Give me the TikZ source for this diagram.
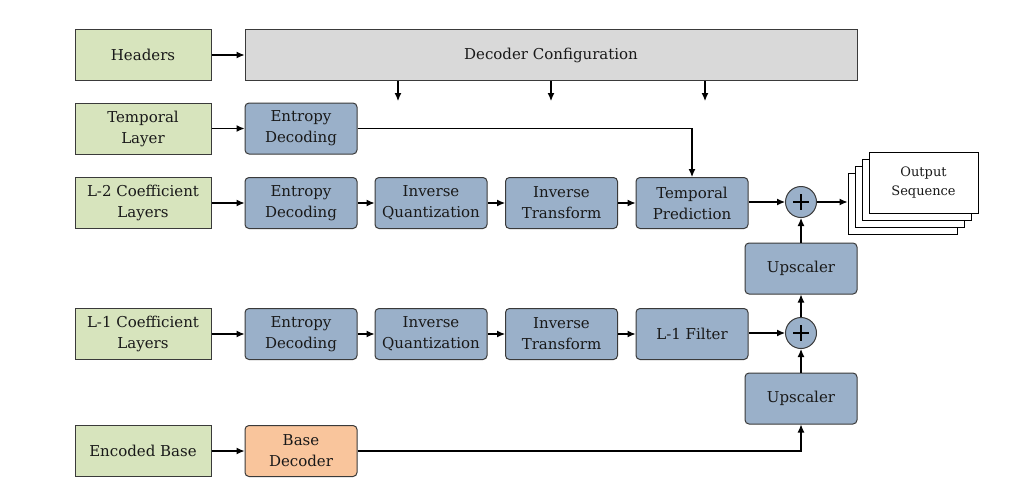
\documentclass[tikz,border=0pt]{standalone}
\usepackage{fontspec}
\setmainfont{DejaVu Serif}
\usetikzlibrary{arrows.meta}
\definecolor{grn}{HTML}{D7E4BD}
\definecolor{gry}{HTML}{D9D9D9}
\definecolor{blu}{HTML}{9AB0C9}
\definecolor{org}{HTML}{F9C59C}
\definecolor{edge}{HTML}{3A3A3A}
\begin{document}
\begin{tikzpicture}[x=1pt,y=-1pt,
  every node/.style={inner sep=0pt,align=center,text=black!90,font=\fontsize{15}{21}\selectfont},
  inbox/.style={draw=edge,line width=1pt,fill=grn,minimum width=136pt,minimum height=51pt},
  procbox/.style={draw=edge,line width=1pt,fill=blu,rounded corners=4pt,minimum width=112pt,minimum height=51pt},
  cfgbox/.style={draw=edge,line width=1pt,fill=gry,minimum width=612pt,minimum height=51pt},
  basebox/.style={procbox,fill=org},
  sumnode/.style={draw=edge,line width=1pt,fill=blu,circle,minimum size=31pt},
  outbox/.style={draw=black,line width=1pt,fill=white,minimum width=109pt,minimum height=61pt},
  conn/.style={line width=1.1pt,draw=black,-{Latex[length=8pt,width=7pt]}}]
\useasboundingbox (0,0) rectangle (1014,496);

% input column
\node[inbox] (hdr) at (143,55) {Headers};
\node[inbox] (tl)  at (143,128.5) {Temporal\\Layer};
\node[inbox] (l2)  at (143,203) {L-2 Coefficient\\Layers};
\node[inbox] (l1)  at (143,334) {L-1 Coefficient\\Layers};
\node[inbox] (eb)  at (143,451) {Encoded Base};

% decoder configuration
\node[cfgbox] (cfg) at (551,55) {Decoder Configuration};

% temporal row
\node[procbox] (ted) at (301,128.5) {Entropy\\Decoding};

% L-2 row
\node[procbox] (ed2) at (301,203) {Entropy\\Decoding};
\node[procbox] (iq2) at (431,203) {Inverse\\Quantization};
\node[procbox] (it2) at (561.5,203) {Inverse\\Transform};
\node[procbox] (tp)  at (692,203) {Temporal\\Prediction};

% L-1 row
\node[procbox] (ed1) at (301,334) {Entropy\\Decoding};
\node[procbox] (iq1) at (431,334) {Inverse\\Quantization};
\node[procbox] (it1) at (561.5,334) {Inverse\\Transform};
\node[procbox] (lf)  at (692,334) {L-1 Filter};

% base
\node[basebox] (bd) at (301,451) {Base\\Decoder};

% sums and upscalers
\node[sumnode] (s2) at (801,202) {};
\node[sumnode] (s1) at (801,333) {};
\draw[line width=2.6pt] (s2.center)+(-8,0) -- +(8,0) (s2.center)+(0,-8) -- +(0,8);
\draw[line width=2.6pt] (s1.center)+(-8,0) -- +(8,0) (s1.center)+(0,-8) -- +(0,8);
\node[procbox] (up2) at (801,268.5) {Upscaler};
\node[procbox] (up1) at (801,398.5) {Upscaler};

% output sequence stack
\node[outbox] (o4) at (902.5,203.5) {};
\node[outbox] (o3) at (909.5,196.5) {};
\node[outbox] (o2) at (916.5,189.5) {};
\node[outbox,font=\fontsize{13}{19}\selectfont] (o1) at (923.5,182.5) {Output\\Sequence};

% decoder configuration arrows
\coordinate (c1) at (398,101);
\coordinate (c2) at (551,101);
\coordinate (c3) at (705,101);
\draw[conn] (cfg.south -| c1) -- (c1);
\draw[conn] (cfg.south -| c2) -- (c2);
\draw[conn] (cfg.south -| c3) -- (c3);

% connectors
\draw[conn] (hdr) -- (cfg);
\draw[conn] (tl) -- (ted);
\draw[conn] (ted.east) -| (tp.north);
\draw[conn] (l2) -- (ed2);
\draw[conn] (ed2) -- (iq2);
\draw[conn] (iq2) -- (it2);
\draw[conn] (it2) -- (tp);
\draw[conn] (tp.east |- s2) -- (s2);
\draw[conn] (s2) -- (o4.west |- s2);
\draw[conn] (l1) -- (ed1);
\draw[conn] (ed1) -- (iq1);
\draw[conn] (iq1) -- (it1);
\draw[conn] (it1) -- (lf);
\draw[conn] (lf.east |- s1) -- (s1);
\draw[conn] (eb) -- (bd);
\draw[conn] (bd.east) -| (up1.south);
\draw[conn] (up1) -- (s1);
\draw[conn] (s1) -- (up2);
\draw[conn] (up2) -- (s2);
\end{tikzpicture}
\end{document}
